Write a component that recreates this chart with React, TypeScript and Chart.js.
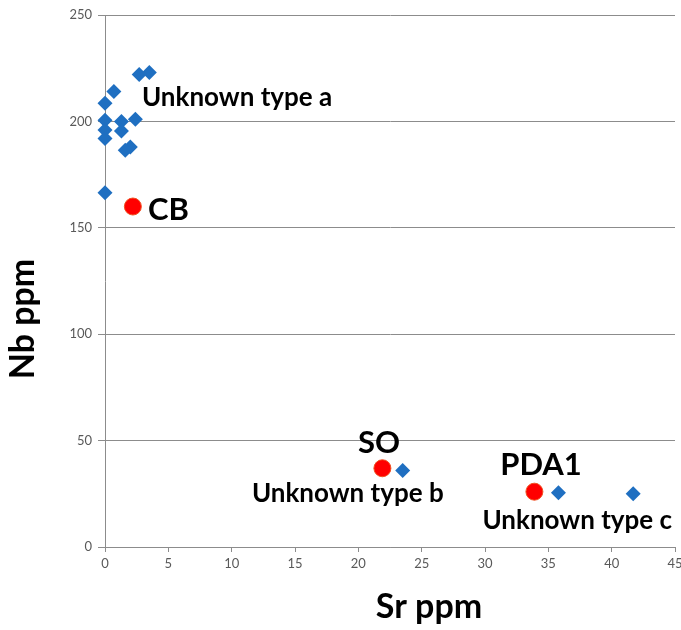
import { useEffect, useRef } from 'react';
import { Chart, registerables } from 'chart.js';

Chart.register(...registerables);

// Unknown samples (blue diamonds)
const unknownSr = [3.5, 2.7, 0.7, 0, 0, 1.3, 2.4, 0, 1.3, 0, 2.0, 1.6, 0, 23.5, 35.8, 41.7];
const unknownNb = [223, 222, 214, 208.5, 200.5, 200, 201, 196, 195.5, 192, 188, 186.5, 166.5, 36, 25.5, 25];

// Reference samples (red circles)
const refNames = ['CB', 'SO', 'PDA1'];
const refSr = [2.2, 21.9, 33.9];
const refNb = [160, 37, 26];

// Axis ranges / ticks
const xMin = 0, xMax = 45, xStep = 5;
const yMin = 0, yMax = 250, yStep = 50;
const xTitle = 'Sr ppm';
const yTitle = 'Nb ppm';

// Text annotations anchored in data units (left edge, vertical middle)
const noteTexts = ['Unknown type a', 'CB', 'SO', 'Unknown type b', 'PDA1', 'Unknown type c'];
const noteX = [2.92, 3.39, 19.97, 11.6, 31.2, 29.8];
const noteY = [211, 158.4, 48.9, 24.9, 38.5, 12.2];
const noteBig = [false, true, true, false, true, false];

const FONT = 'Lato, "Open Sans", sans-serif';
const AXIS = '#8c8c8c';

const notesPlugin = {
  id: 'notes',
  afterDatasetsDraw(chart: any) {
    const { ctx, scales } = chart;
    ctx.save();
    ctx.fillStyle = '#000';
    ctx.textAlign = 'left';
    ctx.textBaseline = 'middle';
    noteTexts.forEach((t, i) => {
      ctx.font = `bold ${noteBig[i] ? 31 : 26}px ${FONT}`;
      ctx.fillText(t, scales.x.getPixelForValue(noteX[i]), scales.y.getPixelForValue(noteY[i]));
    });
    // axis titles
    ctx.font = `bold 34px ${FONT}`;
    ctx.textAlign = 'center';
    ctx.textBaseline = 'alphabetic';
    ctx.fillText(xTitle, 429, 618);
    ctx.translate(34, 319);
    ctx.rotate(-Math.PI / 2);
    ctx.fillText(yTitle, 0, 0);
    ctx.restore();
  },
};

export default function App() {
  const ref = useRef<HTMLCanvasElement>(null);
  useEffect(() => {
    document.body.style.margin = '0';
    const chart = new Chart(ref.current!, {
      type: 'scatter',
      data: {
        datasets: [
          {
            label: 'Unknown',
            data: unknownSr.map((x, i) => ({ x, y: unknownNb[i] })),
            pointStyle: 'rectRot',
            pointRadius: 7.5,
            backgroundColor: '#1f6fc1',
            borderColor: '#1f6fc1',
            borderWidth: 0,
            clip: false,
          },
          {
            label: 'Reference',
            data: refSr.map((x, i) => ({ x, y: refNb[i], name: refNames[i] })),
            pointStyle: 'circle',
            pointRadius: 8.5,
            backgroundColor: '#ff0000',
            borderColor: '#f05020',
            borderWidth: 1,
            clip: false,
          },
        ],
      },
      options: {
        responsive: false,
        animation: false,
        layout: { autoPadding: false, padding: { top: 15, right: 6, left: 0, bottom: 0 } },
        plugins: { legend: { display: false }, tooltip: { enabled: false } },
        scales: {
          x: {
            type: 'linear',
            min: xMin,
            max: xMax,
            ticks: { stepSize: xStep, color: '#595959', font: { family: FONT, size: 13 }, padding: 4 },
            grid: { drawOnChartArea: false, drawTicks: true, tickLength: 5, color: AXIS },
            border: { display: true, color: AXIS, width: 1 },
            afterFit: (s: any) => {
              s.height = 83;
              s.paddingLeft = 0;
              s.paddingRight = 0;
            },
          },
          y: {
            type: 'linear',
            min: yMin,
            max: yMax,
            ticks: { stepSize: yStep, color: '#595959', font: { family: FONT, size: 13 }, padding: 6 },
            grid: { drawOnChartArea: true, drawTicks: true, tickLength: 7, color: AXIS },
            border: { display: true, color: AXIS, width: 1 },
            afterFit: (s: any) => {
              s.width = 105;
              s.paddingTop = 0;
              s.paddingBottom = 0;
            },
          },
        },
      },
      plugins: [notesPlugin],
    });
    return () => chart.destroy();
  }, []);
  return <canvas ref={ref} width={681} height={630} style={{ display: 'block' }} />;
}
